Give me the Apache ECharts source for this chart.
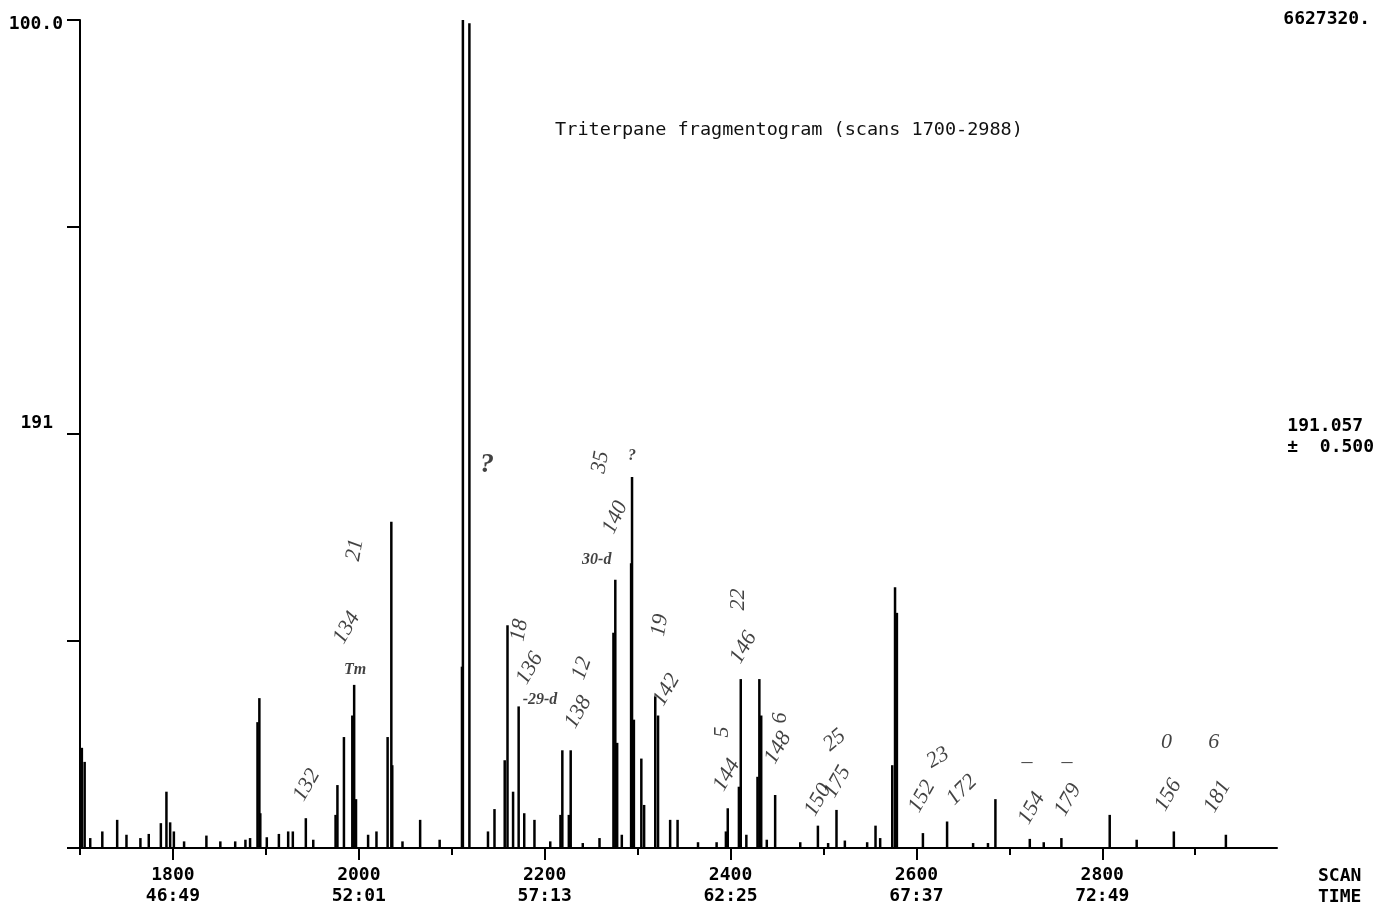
<!DOCTYPE html>
<html>
<head>
<meta charset="utf-8">
<script src="https://cdn.jsdelivr.net/npm/echarts@6/dist/echarts.min.js"></script>
<style>html,body{margin:0;padding:0;background:#fff}#c{width:1377px;height:912px}</style>
</head>
<body>
<div id="c"></div>
<script>
// ---- data ----
const scanMin = 1700, scanMax = 2988;
const scanLabels = [1800, 2000, 2200, 2400, 2600, 2800];
const timeLabels = ['46:49', '52:01', '57:13', '62:25', '67:37', '72:49'];
const minorTickScans = [1700, 1900, 2100, 2300, 2500, 2700, 2900];
const yTickLabels = {100: '100.0', 50: '191'};
// peaks: [scan, relative intensity %]
const peakScans = [1702,1705,1711,1724,1740,1750,1765,1774,1787,1793,1797,1801,1812,1836,1851,1867,1878,1883,
  1891,1893,1894,1901,1914,1924,1929,1943,1951,1975,1977,1984,1993,1995,1997,2010,2019,2031,2035,2036,2047,2066,2087,
  2111,2112,2119,2139,2146,2157,2160,2166,2172,2178,2189,2206,2217,2219,2226,2228,2241,2259,
  2274,2276,2278,2283,2293,2294,2296,2304,2307,2319,2322,2335,2343,2365,2385,
  2395,2397,2409,2411,2417,2429,2431,2433,2439,2448,2475,2494,2505,2514,2523,2547,2556,2561,
  2574,2577,2579,2607,2633,2661,2677,2685,2722,2737,2756,2808,2837,2877,2933];
const peakHeights = [12.1,10.4,1.2,2.0,3.4,1.6,1.2,1.7,3.0,6.8,3.1,2.0,0.8,1.5,0.8,0.8,1.0,1.2,
  15.2,18.1,4.2,1.3,1.7,2.0,2.0,3.6,1.0,4.0,7.6,13.4,16.0,19.7,5.9,1.6,2.0,13.4,39.4,10.0,0.8,3.4,1.0,
  21.9,100.0,99.6,2.0,4.7,10.6,26.9,6.8,17.1,4.2,3.4,0.8,4.0,11.8,4.0,11.8,0.6,1.2,
  26.0,32.4,12.7,1.6,34.4,44.8,15.5,10.8,5.2,18.3,16.0,3.4,3.4,0.7,0.7,
  2.0,4.8,7.4,20.4,1.6,8.6,20.4,16.0,1.0,6.4,0.7,2.7,0.6,4.6,0.9,0.7,2.7,1.2,
  10.0,31.5,28.4,1.8,3.2,0.6,0.6,5.9,1.1,0.7,1.2,4.0,1.0,2.0,1.6];
// handwritten annotations: [text, scan, level]
const annoText  = ['132','134','21','Tm','?','18','136','-29-d','138','12','30-d','140','35','?','142','19',
  '144','5','146','22','148','6','150','175','25','152','23','172','154','179','–','–','0','6','156','181'];
const annoScan  = [1944,1987,1996,1996,2138,2173,2184,2195,2236,2240,2256,2276,2260,2294,2331,2324,
  2396,2391,2414,2408,2451,2453,2494,2515,2512,2606,2623,2649,2724,2763,2719,2762,2869,2920,2871,2924];
const annoLevel = [7.6,26.6,36,21.5,46.3,26.3,21.7,17.9,16.4,21.7,34.8,39.9,46.6,47.4,19.1,26.9,
  8.8,14,24.2,30,12.1,15.7,5.8,8.0,13,6.2,10.9,7.0,4.8,5.8,10.4,10.4,12.8,12.8,6.4,6.2];
const annoAngle = [60,60,80,0,0,80,60,0,60,70,0,65,80,0,60,80,
  60,90,60,90,60,90,60,60,40,60,30,45,60,60,0,0,0,0,60,60];
const annoBold  = ['Tm','?','-29-d','30-d'];

// ---- chart ----
const mono = '"DejaVu Sans Mono", monospace';
const chart = echarts.init(document.getElementById('c'));
const peaks = peakScans.map((s, i) => [s, peakHeights[i]]);
const annos = annoText.map((t, i) => ({
  name: t, value: [annoScan[i], annoLevel[i]],
  label: {rotate: annoAngle[i],
    fontWeight: annoBold.includes(t) ? 'bold' : 'normal',
    fontSize: t === '?' && i === 4 ? 28 : (annoBold.includes(t) ? 16 : 22)}
}));

chart.setOption({
  animation: false,
  title: {
    text: 'Triterpane fragmentogram (scans 1700-2988)',
    left: 784, top: 116, textAlign: 'center',
    textStyle: {fontFamily: mono, fontSize: 18.5, fontWeight: 'normal', color: '#111'}
  },
  grid: {left: 80, right: 100, top: 20, bottom: 64},
  xAxis: [{
    type: 'value', min: scanMin, max: scanMax,
    axisLine: {show: true, lineStyle: {color: '#000', width: 2}},
    axisTick: {show: true, customValues: scanLabels, length: 12, lineStyle: {color: '#000', width: 2}},
    axisLabel: {
      customValues: scanLabels, margin: 17, lineHeight: 21,
      fontFamily: mono, fontWeight: 'bold', fontSize: 18, color: '#000',
      formatter: v => v + '\n' + timeLabels[scanLabels.indexOf(v)]
    },
    splitLine: {show: false}
  }, {
    type: 'value', min: scanMin, max: scanMax, position: 'bottom',
    axisLine: {show: false},
    axisTick: {show: true, customValues: minorTickScans, length: 7, lineStyle: {color: '#000', width: 2}},
    axisLabel: {show: false}, splitLine: {show: false}
  }],
  yAxis: {
    type: 'value', min: 0, max: 100, interval: 25,
    axisLine: {show: true, lineStyle: {color: '#000', width: 2}},
    axisTick: {show: true, length: 13, lineStyle: {color: '#000', width: 2}},
    axisLabel: {
      margin: 17, fontFamily: mono, fontWeight: 'bold', fontSize: 18, color: '#000',
      formatter: v => v === 100 ? '{a|' + yTickLabels[100] + '}' : (v === 50 ? '{b|' + yTickLabels[50] + '}' : ''),
      rich: {
        a: {fontFamily: mono, fontWeight: 'bold', fontSize: 18, color: '#000', padding: [8, 0, 0, 0]},
        b: {fontFamily: mono, fontWeight: 'bold', fontSize: 18, color: '#000', padding: [0, 10, 22, 0]}
      }
    },
    splitLine: {show: false}
  },
  series: [{
    type: 'bar', data: peaks, barWidth: 2.5,
    itemStyle: {color: '#000'}, silent: true
  }, {
    type: 'scatter', data: annos, symbolSize: 1,
    itemStyle: {color: 'rgba(0,0,0,0)'},
    label: {show: true, position: 'inside', formatter: '{b}',
      fontFamily: '"Liberation Serif", serif', fontStyle: 'italic', color: '#111'},
    silent: true
  }],
  graphic: [
    {type: 'text', right: 7, top: 10, style: {text: '6627320.', font: 'bold 18px ' + mono, fill: '#000'}},
    {type: 'text', right: 3, top: 416, style: {text: '191.057\n±  0.500', font: 'bold 18px ' + mono, fill: '#000', align: 'right', lineHeight: 21}},
    {type: 'text', left: 1318, top: 866, style: {text: 'SCAN\nTIME', font: 'bold 18px ' + mono, fill: '#000', lineHeight: 21}}
  ]
});
</script>
</body>
</html>
